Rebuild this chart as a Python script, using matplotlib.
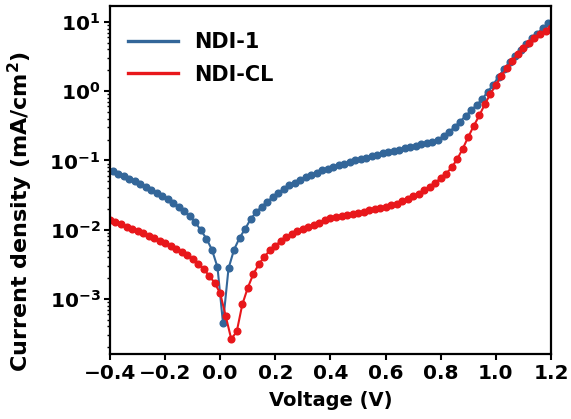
import numpy as np
import matplotlib
matplotlib.use('Agg')
import matplotlib.pyplot as plt

# voltage grids (V)
v_ndi1 = np.round(np.arange(-0.39, 1.1901, 0.02), 2)
v_ndicl = np.round(np.arange(-0.40, 1.2001, 0.02), 2)

# current density (mA/cm^2)
j_ndi1 = [0.0692, 0.0646, 0.0589, 0.0543, 0.0501, 0.0452, 0.0412, 0.0376, 0.0339, 0.0305,
          0.0275, 0.0243, 0.0214, 0.0184, 0.0155, 0.0127, 0.00977, 0.00741, 0.00513, 0.00288,
          0.000447, 0.00275, 0.00513, 0.00759, 0.0102, 0.0141, 0.0178, 0.0214, 0.0251, 0.0295,
          0.0339, 0.0389, 0.0437, 0.0479, 0.0525, 0.0575, 0.0617, 0.0661, 0.0716, 0.0759,
          0.0804, 0.0851, 0.0891, 0.0944, 0.100, 0.105, 0.110, 0.115, 0.120, 0.126,
          0.130, 0.136, 0.143, 0.150, 0.155, 0.162, 0.170, 0.178, 0.186, 0.200,
          0.224, 0.257, 0.302, 0.363, 0.437, 0.525, 0.631, 0.759, 0.977, 1.23,
          1.62, 2.09, 2.63, 3.24, 3.98, 4.79, 5.75, 6.76, 8.13, 9.55]

j_ndicl = [0.0138, 0.0129, 0.0119, 0.0111, 0.0102, 0.00944, 0.00881, 0.00813, 0.00750, 0.00692,
           0.00638, 0.00582, 0.00531, 0.00479, 0.00427, 0.00376, 0.00324, 0.00269, 0.00216, 0.00170,
           0.00120, 0.000562, 0.000263, 0.000339, 0.000832, 0.00145, 0.00229, 0.00316, 0.00407, 0.00501,
           0.00589, 0.00684, 0.00776, 0.00861, 0.00944, 0.0102, 0.0110, 0.0117, 0.0126, 0.0136,
           0.0146, 0.0151, 0.0158, 0.0164, 0.0170, 0.0176, 0.0182, 0.0191, 0.0197, 0.0204,
           0.0214, 0.0224, 0.0237, 0.0257, 0.0275, 0.0302, 0.0331, 0.0372, 0.0417, 0.0479,
           0.0550, 0.0646, 0.0794, 0.105, 0.148, 0.219, 0.316, 0.447, 0.646, 0.912,
           1.23, 1.66, 2.16, 2.75, 3.43, 4.17, 5.01, 5.82, 6.61, 7.41, 8.22]

x_ticks = [-0.4, -0.2, 0.0, 0.2, 0.4, 0.6, 0.8, 1.0, 1.2]
y_ticks = [1e-3, 1e-2, 1e-1, 1e0, 1e1]
y_ticklabels = [r'$\mathbf{10^{-3}}$', r'$\mathbf{10^{-2}}$', r'$\mathbf{10^{-1}}$',
                r'$\mathbf{10^{0}}$', r'$\mathbf{10^{1}}$']

plt.rcParams['font.family'] = 'DejaVu Sans'
plt.rcParams['font.weight'] = 'bold'
plt.rcParams['mathtext.fontset'] = 'dejavusans'

fig = plt.figure(figsize=(5.71, 4.19), dpi=100)
ax = fig.add_axes([0.1926, 0.155, 0.7724, 0.831])

ax.plot(v_ndi1, j_ndi1, 'o-', color='#336699', ms=4.8, lw=1.5, label='NDI-1')
ax.plot(v_ndicl, j_ndicl, 'o-', color='#e8171b', ms=4.8, lw=1.5, label='NDI-CL')

ax.set_yscale('log')
ax.set_xlim(-0.4, 1.2)
ax.set_ylim(1.6e-4, 17)
ax.set_xticks(x_ticks)
ax.set_xticklabels(['%.1f' % v if v >= 0 else '\u2212%.1f' % abs(v) for v in x_ticks])
ax.set_yticks(y_ticks)
ax.set_yticklabels(y_ticklabels)

for sp in ax.spines.values():
    sp.set_linewidth(1.6)
ax.tick_params(axis='both', which='major', labelsize=14.5, length=4, width=1.5, pad=3)
ax.tick_params(axis='y', which='minor', length=2.5, width=1.0)
for lab in ax.get_xticklabels():
    lab.set_fontweight('bold')

ax.set_xlabel('Voltage (V)', fontsize=14, fontweight='bold', labelpad=6)
ax.set_ylabel(r'Current density (mA/cm$^\mathbf{2}$)', fontsize=16, fontweight='bold')
ax.yaxis.set_label_coords(-0.17, 0.41)

leg = ax.legend(loc='upper left', bbox_to_anchor=(0.0, 0.975), frameon=False, fontsize=15,
                handlelength=2.4, handletextpad=0.8, borderaxespad=0.45, labelspacing=0.6)
for h in leg.get_lines():
    h.set_marker('')
    h.set_linewidth(2.4)
for t in leg.get_texts():
    t.set_fontweight('bold')

fig.savefig('out.png', dpi=100)
